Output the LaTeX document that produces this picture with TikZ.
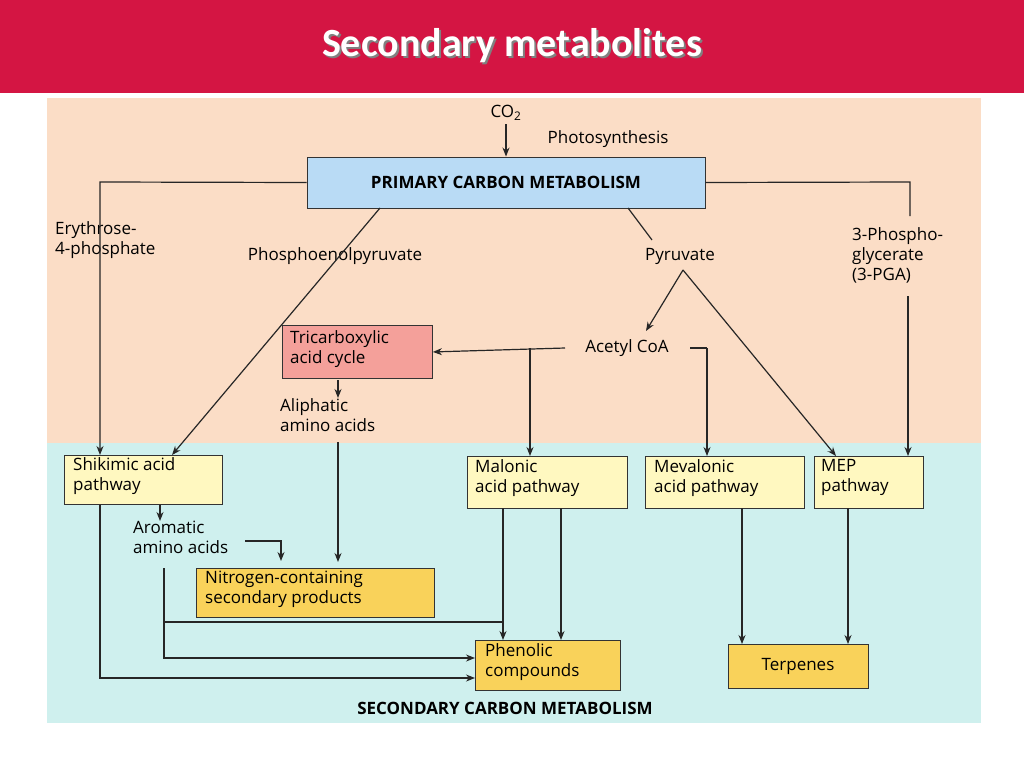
\documentclass[tikz,border=0pt]{standalone}
\usepackage{fontspec}
\setmainfont{Open Sans}
\newfontfamily\titlefont{Carlito}
\usetikzlibrary{arrows.meta}
\definecolor{hdr}{HTML}{D41543}
\definecolor{peach}{HTML}{FBDDC6}
\definecolor{cyanbg}{HTML}{CFF0EE}
\definecolor{pblue}{HTML}{B9DBF5}
\definecolor{salmon}{HTML}{F4A09A}
\definecolor{lyel}{HTML}{FFF8C0}
\definecolor{gold}{HTML}{F9D25A}
\tikzset{
  box/.style={draw=black!80,line width=0.9pt,inner sep=0pt},
  lbl/.style={font=\fontsize{17}{20}\selectfont,align=left,inner sep=0pt},
  ln/.style={line width=1.2pt,black!85},
  ar/.style={ln,-{Stealth[length=9pt,width=7pt]}}
}
\begin{document}
\begin{tikzpicture}[x=1pt,y=-1pt]
\useasboundingbox (0,0) rectangle (1024,768);
\fill[white] (0,0) rectangle (1024,768);
\fill[hdr] (0,0) rectangle (1024,93);
\node[text=black!50,font=\titlefont\bfseries\fontsize{40}{44}\selectfont] at (514,48) {Secondary metabolites};
\node[text=white,font=\titlefont\bfseries\fontsize{40}{44}\selectfont] (title) at (512,46) {Secondary metabolites};
\fill[peach] (47,98) rectangle (981,443);
\fill[cyanbg] (47,443) rectangle (981,723);
% boxes
\node[box,fill=pblue,minimum width=398,minimum height=51] (prim) at (506,182.5) {\fontsize{17}{20}\selectfont\bfseries PRIMARY CARBON METABOLISM};
\node[box,fill=salmon,minimum width=150,minimum height=53,anchor=north west] (tca) at (282,325) {};
\node[lbl,anchor=north west] at (290,330) {Tricarboxylic\\acid cycle};
\node[box,fill=lyel,minimum width=158,minimum height=49,anchor=north west] (shik) at (64,455) {};
\node[lbl,anchor=north west] at (73,457) {Shikimic acid\\pathway};
\node[box,fill=lyel,minimum width=160,minimum height=52,anchor=north west] (mal) at (467,456) {};
\node[lbl,anchor=north west] at (475,459) {Malonic\\acid pathway};
\node[box,fill=lyel,minimum width=159,minimum height=52,anchor=north west] (mev) at (645,456) {};
\node[lbl,anchor=north west] at (654,459) {Mevalonic\\acid pathway};
\node[box,fill=lyel,minimum width=109,minimum height=52,anchor=north west] (mep) at (814,456) {};
\node[lbl,anchor=north west] at (821,459) {MEP\\pathway};
\node[box,fill=gold,minimum width=238,minimum height=49,anchor=north west] (nit) at (196,568) {};
\node[lbl,anchor=north west] at (205,571) {Nitrogen-containing\\secondary products};
\node[box,fill=gold,minimum width=145,minimum height=50,anchor=north west] (phen) at (475,640) {};
\node[lbl,anchor=north west] at (485,643) {Phenolic\\compounds};
\node[box,fill=gold,minimum width=140,minimum height=44,anchor=north west] (terp) at (728,644) {};
\node[lbl] at (798,666) {Terpenes};
% labels
\node[lbl] (co2) at (506,113) {CO\textsubscript{2}};
\node[lbl] (photo) at (608,139) {Photosynthesis};
\node[lbl,anchor=north west] (ery) at (55,221) {Erythrose-\\4-phosphate};
\node[lbl] (pep) at (335,256) {Phosphoenolpyruvate};
\node[lbl] (pyr) at (680,256) {Pyruvate};
\node[lbl,anchor=north west] (pga) at (852,227) {3-Phospho-\\glycerate\\(3-PGA)};
\node[lbl] (acoa) at (627,348) {Acetyl CoA};
\node[lbl,anchor=north west] (ali) at (280,398) {Aliphatic\\amino acids};
\node[lbl,anchor=north west] (aro) at (133,521) {Aromatic\\amino acids};
\node[font=\bfseries\fontsize{17}{20}\selectfont,inner sep=0pt] (sec) at (505,708) {SECONDARY CARBON METABOLISM};
% connectors
\draw[ar] (506,124) -- (prim.north);
\draw[ar] (prim.west) -- (100,182) -- (100,455);
\draw[ar] (380,208) -- (172,455);
\draw[ln] (628,208) -- (652,240);
\draw[ar] (683,270) -- (646,331);
\draw[ar] (683,270) -- (836,456);
\draw[ln] (prim.east) -- (910,182) -- (910,216);
\draw[ar] (908,296) -- (908,456);
\draw[ar] (565,348) -- (tca.east);
\draw[ln] (690,348) -- (707,348);
\draw[ar] (707,348) -- (707,456);
\draw[ar] (530,348) -- (530,456);
\draw[ar] (338,380) -- (338,398);
\draw[ar] (338,442) -- (338,562);
\draw[ar] (160,505) -- (160,521);
\draw[ar] (245,541) -- (281,541) -- (281,561);
\draw[ln] (164,568) -- (164,622) -- (503,622);
\draw[ar] (164,622) -- (164,658) -- (phen.west |- 0,658);
\draw[ar] (100,505) -- (100,678) -- (phen.west |- 0,678);
\draw[ar] (503,508) -- (phen.north -| 503,0);
\draw[ar] (561,508) -- (phen.north -| 561,0);
\draw[ar] (742,508) -- (terp.north -| 742,0);
\draw[ar] (848,508) -- (terp.north -| 848,0);
\end{tikzpicture}
\end{document}
